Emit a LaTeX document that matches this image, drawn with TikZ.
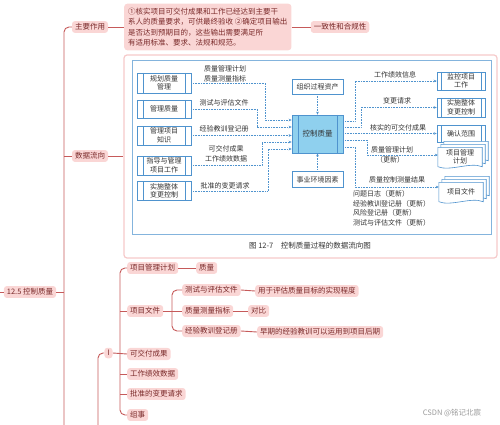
\documentclass[tikz,border=0pt]{standalone}
\usepackage{fontspec}
\setmainfont{Noto Sans CJK SC}
\usetikzlibrary{arrows.meta}
\definecolor{mmfill}{HTML}{FAD6D5}
\definecolor{mmtext}{HTML}{7A2A2A}
\definecolor{mmline}{HTML}{C65A5A}
\definecolor{imgborder}{HTML}{F6CACA}
\definecolor{figblue}{HTML}{4F93CE}
\definecolor{ctrlfill}{HTML}{8FD0EE}
\definecolor{figtext}{HTML}{333333}
\definecolor{wmark}{HTML}{9A9A9A}
\begin{document}
\begin{tikzpicture}[x=1pt,y=-1pt,
  mm/.style={fill=mmfill, text=mmtext, rounded corners=3pt, font=\fontsize{7.5}{9}\selectfont, inner xsep=3pt, inner ysep=2.5pt},
  conn/.style={draw=mmline, line width=0.9pt},
  imgbox/.style={draw=imgborder, line width=1.2pt, fill=white, rounded corners=3pt, minimum width=373pt, minimum height=203pt},
  flbl/.style={text=figtext, font=\fontsize{7}{8.5}\selectfont, inner sep=0pt},
  procbox/.style={draw=figblue, fill=white, line width=0.6pt, text=figtext, font=\fontsize{7}{8.5}\selectfont, align=center, inner sep=1pt,
    path picture={\draw[figblue, line width=0.6pt]
      ([xshift=#1]path picture bounding box.north west) -- ([xshift=#1]path picture bounding box.south west)
      ([xshift=-#1]path picture bounding box.north east) -- ([xshift=-#1]path picture bounding box.south east);}},
  procbox/.default=6pt,
  plainbox/.style={draw=figblue, fill=white, line width=0.6pt, text=figtext, font=\fontsize{7}{8.5}\selectfont, minimum width=51pt, minimum height=15pt, inner sep=1pt},
  docn/.style={minimum width=44pt, minimum height=19pt, inner sep=0pt},
  doctext/.style={text=figtext, font=\fontsize{7}{8.5}\selectfont, align=center, inner sep=0pt},
  docsheet/.style={draw=figblue, fill=white, line width=0.6pt},
  flow/.style={draw=figblue, densely dotted, line width=0.6pt, -{Stealth[length=3pt,width=2.6pt]}}
]
\useasboundingbox (0,0) rectangle (500,425);

% ---------------- mind map nodes ----------------
\node[mm] (root) at (30,292) {12.5 控制质量};
\coordinate (rootl) at (0,292);
\coordinate (trunkbot) at (64,425);
\node[mm] (zy) at (90,27) {主要作用};
\node[mm] (sj) at (90,156) {数据流向};
\node[mm, anchor=west, align=left, font=\fontsize{7.5}{10.5}\selectfont, inner sep=4pt] (desc) at (124,27)
  {①核实项目可交付成果和工作已经达到主要干\\系人的质量要求，可供最终验收 ②确定项目输出\\是否达到预期目的，这些输出需要满足所\\有适用标准、要求、法规和规范。};
\node[mm] (cons) at (340,27) {一致性和合规性};
\node[imgbox] (img) at (310.5,156.5) {};

\node[mm, anchor=west] (xmgl) at (127,268) {项目管理计划};
\node[mm, anchor=west] (ql) at (196,268) {质量};
\node[mm, anchor=west] (xmwj) at (127,311) {项目文件};
\node[mm, anchor=west] (cs) at (182,290) {测试与评估文件};
\node[mm, anchor=west] (zl) at (182,311) {质量测量指标};
\node[mm, anchor=west] (jy) at (182,331) {经验教训登记册};
\node[mm, anchor=west] (u1) at (255,291) {用于评估质量目标的实现程度};
\node[mm, anchor=west] (u2) at (248,311) {对比};
\node[mm, anchor=west] (u3) at (257,332) {早期的经验教训可以运用到项目后期};
\node[mm] (inp) at (108.5,353) {I};
\node[mm, anchor=west] (kj) at (127,354) {可交付成果};
\node[mm, anchor=west] (gz) at (127,374) {工作绩效数据};
\node[mm, anchor=west] (pz) at (127,394) {批准的变更请求};
\node[mm, anchor=west] (zs) at (127,415) {组事};
\coordinate (brk) at (120,390);
\coordinate (brk2) at (172,320);
\coordinate (inpbot) at (98,425);

% ---------------- mind map connectors ----------------
\draw[conn] (rootl) -- (root.west);
\draw[conn] (root.east) -- (root.east -| trunkbot);
\draw[conn, rounded corners=5pt] (zy.west) -| (trunkbot);
\draw[conn] (sj.west -| trunkbot) -- (sj.west);
\draw[conn] (zy.east) -- (desc.west);
\draw[conn] (desc.east) -- (cons.west);
\draw[conn] (sj.east) -- (sj.east -| img.west);
\draw[conn, rounded corners=5pt] (xmgl.west) -| (brk) |- (zs.west);
\draw[conn] (xmwj.west -| brk) -- (xmwj.west);
\draw[conn] (gz.west -| brk) -- (gz.west);
\draw[conn] (pz.west -| brk) -- (pz.west);
\draw[conn] (inp.east) -- (kj.west);
\draw[conn, rounded corners=5pt] (inp.west) -| (inpbot);
\draw[conn] (xmgl.east) -- (ql.west);
\draw[conn, rounded corners=5pt] (cs.west) -| (brk2) |- (jy.west);
\draw[conn] (xmwj.east) -- (zl.west);
\draw[conn] (cs.east) -- (u1.west);
\draw[conn] (zl.east) -- (u2.west);
\draw[conn] (jy.east) -- (u3.west);

% ---------------- embedded figure ----------------
\draw[figblue!70, line width=0.6pt] (132,60) rectangle (491,234);
\node[text=figtext, font=\fontsize{7.5}{9}\selectfont, inner sep=0pt] (cap) at (310,246) {图 12-7\hspace{1em}控制质量过程的数据流向图};

% left process boxes
\node[procbox, minimum width=54pt, minimum height=20pt] (p1) at (164,83) {规划质量\\管理};
\node[procbox, minimum width=54pt, minimum height=18pt] (p2) at (164,109) {管理质量};
\node[procbox, minimum width=54pt, minimum height=19pt] (p3) at (164,135.5) {管理项目\\知识};
\node[procbox, minimum width=54pt, minimum height=19pt] (p4) at (164,165.5) {指导与管理\\项目工作};
\node[procbox, minimum width=54pt, minimum height=19pt] (p5) at (164,191) {实施整体\\变更控制};

% centre
\node[procbox, fill=ctrlfill, minimum width=51pt, minimum height=38pt, font=\fontsize{7.5}{9}\selectfont] (ctrl) at (317.5,134) {控制质量};
\node[plainbox] (opa) at (317.5,86.5) {组织过程资产};
\node[plainbox, minimum height=16pt] (eef) at (317.5,179.5) {事业环境因素};

% right boxes
\node[procbox=4pt, minimum width=48pt, minimum height=18pt] (r1) at (461,81) {监控项目\\工作};
\node[procbox=4pt, minimum width=48pt, minimum height=19pt] (r2) at (461,107.5) {实施整体\\变更控制};
\node[procbox=4pt, minimum width=48pt, minimum height=17pt] (r3) at (461,133.5) {确认范围};

\node[docn] (r4) at (460,157) {};
\foreach \s in {6,3,0} {
  \filldraw[docsheet] ([shift={(\s,-\s)}]r4.north west) -- ([shift={(\s,-\s)}]r4.north east) -- ([shift={(\s,-\s)}]r4.south east)
    .. controls +(-12,-5) and +(12,5) .. ([shift={(\s,-\s)}]r4.south west) -- cycle;
}
\node[doctext] (r4t) at (r4) {项目管理\\计划};

\node[docn] (r5) at (461,192) {};
\foreach \s in {6,3,0} {
  \filldraw[docsheet] ([shift={(\s,-\s)}]r5.north west) -- ([shift={(\s,-\s)}]r5.north east) -- ([shift={(\s,-\s)}]r5.south east)
    .. controls +(-12,-5) and +(12,5) .. ([shift={(\s,-\s)}]r5.south west) -- cycle;
}
\node[doctext] (r5t) at (r5) {项目文件};

\coordinate (r4in) at (r4.west |- 0,155);
\coordinate (r5in) at (r5.west |- 0,187);

% left labels
\node[flbl] (l1a) at (225,69) {质量管理计划};
\node[flbl] (l1b) at (225,79) {质量测量指标};
\node[flbl] (l2) at (224,103) {测试与评估文件};
\node[flbl] (l3) at (224,129) {经验教训登记册};
\node[flbl] (l4a) at (226,149) {可交付成果};
\node[flbl] (l4b) at (226,158.5) {工作绩效数据};
\node[flbl] (l5) at (225,186) {批准的变更请求};

% right labels
\node[flbl] (o1) at (395,75) {工作绩效信息};
\node[flbl] (o2) at (397,101) {变更请求};
\node[flbl] (o3) at (398,127.5) {核实的可交付成果};
\node[flbl] (o4a) at (392,149.5) {质量管理计划};
\node[flbl] (o4b) at (390,160) {（更新）};
\node[flbl] (o5) at (397,180) {质量控制测量结果};
\node[flbl, anchor=west] (o6a) at (353,194) {问题日志（更新）};
\node[flbl, anchor=west] (o6b) at (353,203.5) {经验教训登记册（更新）};
\node[flbl, anchor=west] (o6c) at (353,213) {风险登记册（更新）};
\node[flbl, anchor=west] (o6d) at (353,222.5) {测试与评估文件（更新）};

% flows in
\draw[flow] (p1.east) -| (265,120) -- (ctrl.west |- 0,120);
\draw[flow] (p2.east) -| (257,127) -- (ctrl.west |- 0,127);
\draw[flow] (p3.east) -- (ctrl.west |- p3.east);
\draw[flow] (p4.east) -| (262,142) -- (ctrl.west |- 0,142);
\draw[flow] (p5.east) -| (268,149) -- (ctrl.west |- 0,149);
\draw[flow] (opa.south) -- (ctrl.north);
\draw[flow] (eef.north) -- (ctrl.south);

% flows out
\draw[flow] (ctrl.east |- 0,121) -- (355,121) |- (r1.west);
\draw[flow] (ctrl.east |- 0,127) -- (361,127) |- (r2.west);
\draw[flow] (ctrl.east |- r3.west) -- (r3.west);
\draw[flow] (ctrl.east |- 0,140) -- (367,140) |- (r4in);
\draw[flow] (ctrl.east |- 0,147) -- (355,147) |- (r5in);

% watermark
\node[text=wmark, font=\fontsize{7.5}{9}\selectfont, inner sep=0pt] (wm) at (452,413) {CSDN @铭记北宸};
\end{tikzpicture}
\end{document}
